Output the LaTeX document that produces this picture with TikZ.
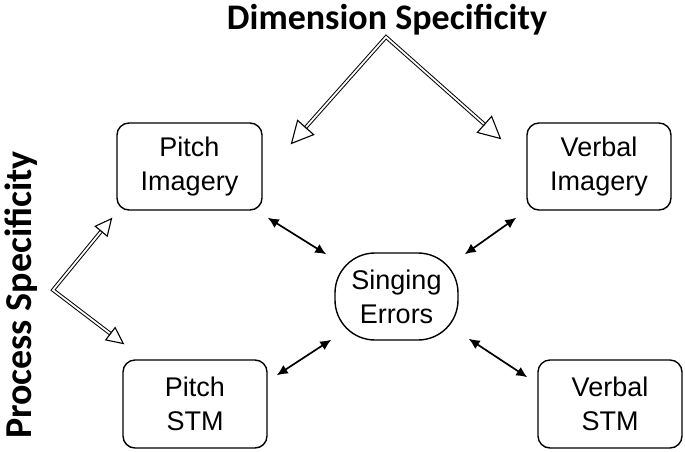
\documentclass[tikz,border=0pt]{standalone}
\usepackage{fontspec}
\setmainfont{Liberation Sans}
\newfontfamily\nodefont{Liberation Sans}
\newfontfamily\titlefont{Carlito}
\usetikzlibrary{arrows.meta,calc}
\begin{document}
\begin{tikzpicture}[x=1pt,y=-1pt,
  box/.style={draw, line width=1.4pt, rounded corners=12pt, align=center,
    font=\nodefont\fontsize{27}{34}\selectfont, inner sep=0pt},
  ttl/.style={font=\titlefont\bfseries\fontsize{36}{40}\selectfont, inner sep=0pt},
  link/.style={line width=1.7pt, {Latex[length=11pt,width=10pt]}-{Latex[length=11pt,width=10pt]}},
  shaft/.style={draw, line width=1pt, double, double distance=1.8pt, line join=miter},
  bighead/.style={line width=1.1pt, -{Triangle[open, length=23pt, width=23pt]}},
  smallhead/.style={line width=1.1pt, -{Triangle[open, length=18pt, width=17pt]}}
]
\useasboundingbox (0,0) rectangle (685,451);

\node[box, minimum width=145pt, minimum height=87pt] (PI) at (189.5,166.5) {Pitch\\Imagery};
\node[box, minimum width=144pt, minimum height=87pt] (VI) at (599,166.5) {Verbal\\Imagery};
\node[box, minimum width=144pt, minimum height=88pt] (PS) at (195,404) {Pitch\\STM};
\node[box, minimum width=144pt, minimum height=88pt] (VS) at (610,404) {Verbal\\STM};
\node[box, rounded corners=40pt, minimum width=123pt, minimum height=87pt] (SE) at (396.5,296.5) {Singing\\Errors};

\node[ttl, anchor=base] (DS) at (387,29) {Dimension Specificity};
\node[ttl, font=\titlefont\bfseries\fontsize{38}{42}\selectfont, anchor=base, rotate=90] (PSp) at (31,295) {Process Specificity};

% small double arrows
\draw[link] ([shift={(5,7)}]PI.south east) -- ([shift={(-8,2)}]SE.north west);
\draw[link] ([shift={(6,2)}]SE.north east) -- ([shift={(-10,7)}]VI.south west);
\draw[link] ([shift={(9,16)}]PS.north east) -- ([shift={(-3,-1)}]SE.south west);
\draw[link] ([shift={(10,-2)}]SE.south east) -- ([shift={(-10,18)}]VS.north west);

% dimension arrow
\coordinate (dapex) at (386,37);
\coordinate (dl) at ([shift={(28,22)}]PI.north east);
\coordinate (dr) at ([shift={(-25,17)}]VI.north west);
\draw[shaft, shorten <=22pt, shorten >=22pt] (dl) -- (dapex) -- (dr);
\draw[bighead] ($(dl)!23pt!(dapex)$) -- (dl);
\draw[bighead] ($(dr)!23pt!(dapex)$) -- (dr);

% process arrow
\coordinate (papex) at (53,290);
\coordinate (pt) at ([shift={(-4,7)}]PI.south west);
\coordinate (pb) at ([shift={(2,-15)}]PS.north west);
\draw[shaft, shorten <=17pt, shorten >=17pt] (pt) -- (papex) -- (pb);
\draw[smallhead] ($(pt)!18pt!(papex)$) -- (pt);
\draw[smallhead] ($(pb)!18pt!(papex)$) -- (pb);
\end{tikzpicture}
\end{document}
